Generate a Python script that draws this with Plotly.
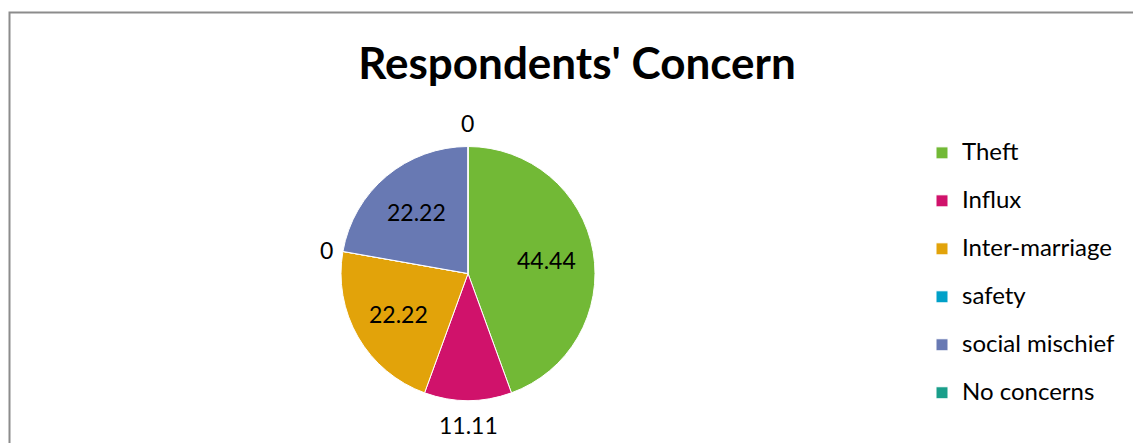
import math
import plotly.graph_objects as go

categories = ["Theft", "Influx", "Inter-marriage", "safety", "social mischief", "No concerns"]
values = [44.44, 11.11, 22.22, 0, 22.22, 0]
value_labels = ["44.44", "11.11", "22.22", "0", "22.22", "0"]
colors = ["#72B936", "#D0126B", "#E2A30A", "#00A0C8", "#6879B3", "#1A9E8A"]
label_inside = [True, False, True, False, True, False]
title_text = "Respondents' Concern"

W, H = 1133, 443
FONT = "Lato, Carlito, 'Open Sans', sans-serif"

# pie placement (pixels)
CX, CY, R = 468, 273.5, 127
dom_x = [(CX - R) / W, (CX + R) / W]
dom_y = [(H - CY - R) / H, (H - CY + R) / H]

legend_labels = [f"<span style='font-size:24px'>{c}</span><br> " for c in categories]

fig = go.Figure(go.Pie(
    labels=legend_labels,
    values=values,
    textinfo="none",
    marker=dict(colors=colors, line=dict(color="white", width=1)),
    sort=False,
    direction="clockwise",
    rotation=0,
    domain=dict(x=dom_x, y=dom_y),
    showlegend=True,
    hoverinfo="label+value",
))

# data labels placed from the slice angles (Excel-like placement)
total = sum(values)
annotations = []
cum = 0.0
for v, txt, inside in zip(values, value_labels, label_inside):
    mid = (cum + v / 2) / total * 2 * math.pi
    cum += v
    s, c = math.sin(mid), math.cos(mid)
    if inside:
        d = 0.63 * R
        xa, ya = "center", "middle"
    else:
        d = R + 8
        xa = "left" if s > 0.3 else ("right" if s < -0.3 else "center")
        ya = "bottom" if c > 0.3 else ("top" if c < -0.3 else "middle")
    px = CX + d * s
    py = CY - d * c
    annotations.append(dict(
        x=px / W, y=1 - py / H, xref="paper", yref="paper",
        text=txt, showarrow=False, xanchor=xa, yanchor=ya,
        font=dict(family=FONT, size=23, color="black"),
    ))

fig.update_layout(
    width=W, height=H,
    margin=dict(l=0, r=0, t=0, b=0),
    paper_bgcolor="white",
    plot_bgcolor="white",
    font=dict(family=FONT, color="black"),
    title=dict(text=f"<b>{title_text}</b>", x=577 / W, xanchor="center",
               y=1 - 64 / H, yanchor="middle",
               font=dict(family=FONT, size=44, color="black")),
    legend=dict(x=922 / W, xanchor="left", y=0.695, yanchor="top",
                font=dict(family=FONT, size=17.3, color="black"),
                valign="top", bgcolor="rgba(0,0,0,0)"),
    annotations=annotations,
    shapes=[dict(type="rect", xref="paper", yref="paper",
                 x0=9.5 / W, x1=1.02, y0=-0.05, y1=1 - 12.5 / H,
                 line=dict(color="#8C8C8C", width=2), fillcolor="rgba(0,0,0,0)",
                 layer="below")],
)

fig.write_html("out.html", config={"displayModeBar": False},
               post_script="document.body.style.margin='0';")
